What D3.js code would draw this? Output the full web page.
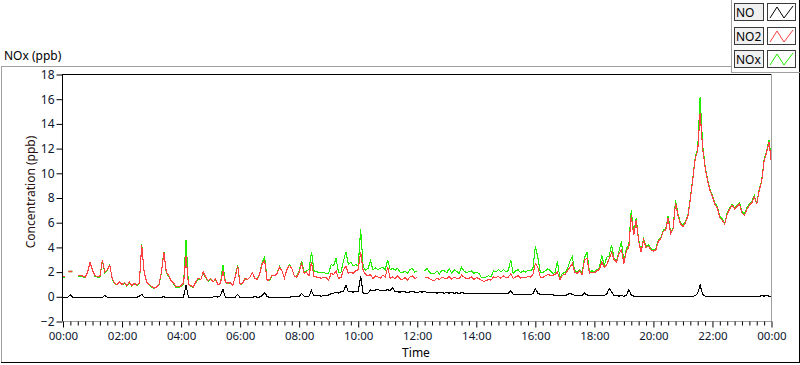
<!DOCTYPE html>
<html>
<head>
<meta charset="utf-8">
<script src="https://cdn.jsdelivr.net/npm/d3@7"></script>
<style>
  html, body { margin: 0; padding: 0; background: #ffffff; }
  svg { display: block; font-family: "Noto Sans", "Open Sans", sans-serif; }
</style>
</head>
<body>
<script>
// ---------------- DATA ----------------
const startTime = Date.UTC(2000, 0, 1, 0, 0);
const endTime = Date.UTC(2000, 0, 2, 0, 0);
const stepMinutes = 5;

const seriesNames = ["NO", "NO2", "NOx"];
const seriesColors = ["#000000", "#ff4040", "#22ee00"];

const yTicks = [-2, 0, 2, 4, 6, 8, 10, 12, 14, 16, 18];
const xTickLabels = ["00:00","02:00","04:00","06:00","08:00","10:00","12:00","14:00","16:00","18:00","20:00","22:00","00:00"];

const no = [
 -0.05,-0.08,-0.02,0.15,-0.05,-0.08,-0.05,-0.03,-0.08,-0.05,
 -0.06,-0.04,-0.07,-0.05,-0.03,-0.06,-0.05,0.1,-0.04,-0.07,
 -0.05,-0.06,-0.03,-0.08,-0.05,-0.04,-0.06,-0.05,-0.02,-0.07,
 -0.05,0.05,0.2,-0.03,-0.06,-0.05,-0.07,-0.04,-0.06,-0.05,
 -0.03,0.0,-0.05,-0.06,-0.04,-0.07,-0.05,-0.06,-0.04,-0.02,
 0.95,-0.03,-0.06,-0.05,-0.07,-0.04,-0.05,-0.06,-0.03,-0.05,
 -0.04,-0.02,0.05,-0.03,0.1,0.6,-0.02,-0.05,-0.04,-0.06,
 -0.03,0.2,-0.05,-0.04,-0.06,-0.05,-0.03,-0.04,0.02,-0.03,
 -0.02,0.1,0.35,0.0,-0.04,-0.05,-0.04,-0.05,-0.06,-0.05,
 -0.04,-0.05,-0.04,0.0,0.02,0.01,0.03,0.27,0.05,0.05,
 0.05,0.5,0.08,0.1,0.08,0.05,0.12,0.1,0.15,0.25,
 0.3,0.35,0.3,0.4,0.45,0.95,0.4,0.42,0.38,0.45,
 0.4,1.65,0.25,0.25,0.3,0.55,0.5,0.55,0.6,0.5,
 0.55,0.52,0.58,0.5,0.75,0.42,0.4,0.38,0.42,0.4,
 0.35,0.4,0.42,0.38,0.35,0.4,0.38,0.42,0.36,0.35,
 0.38,0.32,0.3,0.35,0.32,0.3,0.33,0.3,0.34,0.3,
 0.32,0.28,0.33,0.3,0.27,0.28,0.25,0.27,0.26,0.28,
 0.25,0.27,0.24,0.26,0.25,0.27,0.24,0.26,0.25,0.27,
 0.24,0.26,0.5,0.22,0.2,0.22,0.2,0.18,0.2,0.22,
 0.2,0.24,0.67,0.3,0.2,0.18,0.2,0.15,0.18,
 0.15,0.13,0.12,0.14,0.12,0.13,0.15,0.3,0.18,0.13,
 0.12,0.14,0.13,0.3,0.15,0.12,0.1,0.08,0.1,0.08,
 0.1,0.12,0.2,0.67,0.4,0.1,0.08,0.06,0.1,0.05,
 0.1,0.6,0.15,0.05,0.04,0.03,0.02,0.0,0.02,0.0,
 0.03,0.01,-0.01,0.02,0.04,0.0,0.02,0.05,0.01,0.0,
 0.03,0.0,0.02,0.01,0.03,0.02,0.0,0.03,0.1,0.3,
 0.95,0.2,0.05,0.02,0.0,0.03,0.01,-0.01,0.02,0.0,
 0.02,0.01,-0.01,0.02,0.0,0.01,0.03,0.0,0.02,0.01,
 0.0,0.02,0.0,0.03,0.01,0.1,0.05,0.12,0.04,0.02
];

const no2 = [
 1.62,1.62,null,2.05,null,null,1.7,1.72,1.68,1.6,
 2.0,2.8,2.15,1.7,1.65,1.65,3.0,2.0,2.2,2.55,
 1.5,1.1,1.0,1.2,1.0,1.15,0.9,1.2,0.9,1.1,
 0.95,1.1,4.2,2.0,1.2,1.0,0.85,0.7,0.8,1.0,
 2.0,3.6,2.0,1.7,1.3,1.1,0.8,0.8,0.9,1.1,
 3.3,1.0,0.9,0.8,1.2,1.5,1.4,2.0,1.6,1.3,
 1.5,1.2,1.45,0.95,1.1,2.1,1.2,1.1,1.15,0.9,
 1.6,2.5,1.0,1.1,1.5,1.4,1.6,1.95,1.5,1.4,
 1.9,2.7,2.9,1.3,1.4,1.75,1.7,1.9,2.4,2.1,
 1.5,2.2,2.55,2.3,1.7,1.6,2.0,2.7,1.9,2.0,
 1.7,2.8,1.65,1.6,1.55,1.5,1.6,1.55,1.35,1.9,
 1.8,2.1,1.5,1.55,2.2,2.5,1.9,2.0,1.9,2.1,
 2.2,3.65,2.1,1.8,1.7,1.8,1.5,1.7,1.6,1.5,
 1.75,1.6,2.4,1.5,1.6,1.45,1.7,1.45,1.4,1.55,
 1.35,1.6,1.7,1.5,1.55,null,null,1.55,1.6,1.45,
 1.35,1.3,1.5,1.4,1.6,1.5,1.45,1.65,1.4,1.6,
 1.5,1.45,1.75,1.6,1.45,1.5,1.6,1.4,1.55,1.5,
 1.35,1.25,1.3,1.4,1.35,1.6,1.55,1.65,1.5,1.7,
 1.55,1.6,1.85,1.5,1.6,1.7,1.5,1.6,1.55,1.65,
 1.6,1.8,2.7,2.4,1.6,1.55,1.7,1.8,1.75,
 1.75,1.8,2.0,1.4,1.75,1.8,2.1,2.4,2.7,2.0,
 1.9,2.1,1.8,3.0,3.1,1.9,2.0,1.95,2.1,2.2,
 2.8,2.4,2.6,3.1,3.6,3.0,2.8,3.5,3.8,2.7,
 3.7,4.0,6.6,5.0,6.2,4.5,3.6,4.6,4.0,4.1,
 3.8,3.7,3.8,4.5,4.7,5.3,5.4,6.4,5.1,5.5,
 7.6,6.6,5.9,5.7,6.0,6.5,7.9,9.5,11.2,11.8,
 14.9,12.0,10.5,9.4,8.6,8.1,7.5,7.2,6.4,6.2,
 5.9,6.7,7.1,7.4,7.1,7.3,7.5,6.8,6.6,7.1,
 7.4,7.6,8.1,7.5,8.6,9.3,11.0,11.7,12.5,10.8
];

const nox = [
 1.6,1.6,null,2.05,null,null,1.65,1.65,1.62,1.55,
 1.95,2.75,2.1,1.65,1.6,1.6,2.95,1.95,2.15,2.6,
 1.45,1.05,0.95,1.15,0.95,1.1,0.85,1.15,0.85,1.05,
 0.9,1.05,4.25,1.95,1.15,0.95,0.8,0.68,0.75,0.95,
 1.95,3.65,1.95,1.65,1.25,1.05,0.75,0.75,0.85,1.05,
 4.6,1.0,0.85,0.75,1.15,1.45,1.4,1.95,1.55,1.25,
 1.45,1.2,1.4,0.95,1.1,2.6,1.2,1.05,1.1,0.9,
 1.65,2.6,1.0,1.05,1.45,1.4,1.6,1.95,1.5,1.4,
 1.95,2.8,3.2,1.3,1.35,1.7,1.7,1.9,2.45,2.1,
 1.5,2.2,2.6,2.3,1.7,1.65,2.1,2.9,2.0,2.1,
 2.2,3.65,2.1,2.05,1.95,1.95,1.95,1.9,1.9,2.6,
 2.5,3.1,1.95,2.0,2.9,3.65,2.6,2.8,2.5,2.6,
 2.5,5.45,2.45,2.15,2.3,2.9,2.2,2.35,2.2,2.3,
 2.4,2.2,3.0,2.2,2.3,2.15,2.3,2.0,1.95,2.1,
 1.9,2.2,2.3,2.0,2.05,null,null,2.1,2.3,2.0,
 1.85,1.9,2.1,1.85,2.15,2.1,1.95,2.3,1.9,2.2,
 2.05,1.9,2.4,2.1,1.95,2.05,2.1,1.9,2.0,1.9,
 1.6,1.55,1.6,1.7,1.6,2.1,2.0,2.2,2.0,2.2,
 2.05,2.1,3.0,1.9,2.1,2.2,1.95,2.1,2.0,2.15,
 2.1,2.3,4.1,3.2,2.0,1.95,2.1,2.25,2.15,
 1.9,1.95,2.85,1.5,1.9,1.95,2.25,2.85,3.25,2.1,
 2.05,2.2,1.9,3.2,3.6,2.0,2.1,2.05,2.2,2.3,
 3.4,2.5,3.2,3.3,4.2,3.1,2.9,3.7,4.5,2.8,
 3.9,4.2,7.0,5.1,6.35,4.6,3.7,4.7,4.1,4.2,
 3.9,3.8,3.9,4.6,4.8,5.4,5.5,6.55,5.2,5.6,
 7.8,6.7,6.0,5.8,6.1,6.6,8.0,9.6,11.3,12.0,
 16.2,12.3,10.6,9.5,8.7,8.2,7.6,7.3,6.5,6.3,
 5.95,6.8,7.2,7.5,7.2,7.4,7.6,6.9,6.7,7.2,
 7.5,7.7,8.2,7.6,8.7,9.4,11.1,11.8,12.7,10.9
];

// ---------------- CHART ----------------
const W = 800, H = 365;
const plot = { left: 62.5, right: 771.5, top: 74.5, bottom: 321.5 };

const svg = d3.select("body").append("svg").attr("width", W).attr("height", H);
svg.append("rect").attr("width", W).attr("height", H).attr("fill", "#ffffff");

const x = d3.scaleUtc().domain([startTime, endTime]).range([63, 771.5]);
const y = d3.scaleLinear().domain([-2, 18]).range([plot.bottom, plot.top]);

// Outer panel
const gray = "#a0a0a0";
function hline(x1, x2, yy, c) { svg.append("line").attr("x1", x1).attr("x2", x2).attr("y1", yy).attr("y2", yy).attr("stroke", c).attr("stroke-width", 1); }
function vline(xx, y1, y2, c) { svg.append("line").attr("x1", xx).attr("x2", xx).attr("y1", y1).attr("y2", y2).attr("stroke", c).attr("stroke-width", 1); }
hline(1, 731, 66.5, gray);
vline(1.5, 66, 363, gray);
hline(1, 800, 362.5, "#000");
vline(799.5, 0, 363, "#000");
vline(731.5, 0, 72, gray);
hline(731, 800, 72.5, gray);

// Panel title
svg.append("text").attr("x", 4).attr("y", 60).attr("font-size", 12).attr("fill", "#000").text("NOx (ppb)");

// Plot frame
hline(62, 772, plot.top, "#000");
vline(plot.left, 74, 322, "#000");
vline(plot.right, 74, 322, gray);
hline(62, 772, plot.bottom, gray);

// Y axis
const yAxis = svg.append("g").attr("transform", `translate(${plot.left},0)`)
  .call(d3.axisLeft(y).tickValues(yTicks).tickSize(6).tickPadding(2).tickFormat(d3.format("d")));
yAxis.select(".domain").remove();
yAxis.selectAll("line").attr("stroke", "#000");
yAxis.selectAll("text").attr("font-size", 12).attr("fill", "#0d1730").attr("font-family", "Noto Sans, sans-serif");

// X axis major
const majorTicks = d3.range(0, xTickLabels.length).map(i => new Date(startTime + i * 2 * 3600e3));
const xAxis = svg.append("g").attr("transform", `translate(0,${plot.bottom})`)
  .call(d3.axisBottom(x).tickValues(majorTicks).tickSize(6).tickFormat((d, i) => xTickLabels[i]));
xAxis.select(".domain").remove();
xAxis.selectAll("line").attr("stroke", "#000");
xAxis.selectAll("text").attr("y", 18).attr("dy", 0).attr("font-size", 11.5).attr("fill", "#0d1730").attr("font-family", "Noto Sans, sans-serif");
// X axis minor (every 15 min)
const minorTicks = d3.utcMinute.every(15).range(new Date(startTime), new Date(endTime + 1)).filter(d => d.getUTCMinutes() !== 0 || d.getUTCHours() % 2 !== 0);
const xMinor = svg.append("g").attr("transform", `translate(0,${plot.bottom})`)
  .call(d3.axisBottom(x).tickValues(minorTicks).tickSize(4).tickFormat(""));
xMinor.select(".domain").remove();
xMinor.selectAll("line").attr("stroke", "#000");

// Axis titles
svg.append("text").attr("transform", "translate(35,192) rotate(-90)").attr("text-anchor", "middle")
  .attr("font-size", 12).attr("fill", "#2a1010").text("Concentration (ppb)");
svg.append("text").attr("x", 416).attr("y", 357).attr("text-anchor", "middle")
  .attr("font-size", 12).attr("fill", "#000").text("Time");

// Data lines
svg.append("clipPath").attr("id", "clip").append("rect")
  .attr("x", plot.left + 0.5).attr("y", plot.top + 0.5).attr("width", plot.right - plot.left - 1).attr("height", plot.bottom - plot.top - 1);
const gData = svg.append("g").attr("clip-path", "url(#clip)");

function toPoints(arr) { return arr.map((v, i) => ({ t: new Date(startTime + i * stepMinutes * 60e3), v })); }
const line = d3.line().defined(d => d.v !== null).x(d => x(d.t)).y(d => y(d.v));

function drawSeries(arr, color) {
  const pts = toPoints(arr);
  gData.append("path").attr("d", line(pts)).attr("fill", "none").attr("stroke", color)
    .attr("stroke-width", 1.1).attr("stroke-linejoin", "miter").attr("shape-rendering", "crispEdges");
  // isolated points
  pts.forEach((p, i) => {
    if (p.v === null) return;
    const prev = i > 0 ? pts[i - 1].v : null, next = i < pts.length - 1 ? pts[i + 1].v : null;
    if (prev === null && next === null) {
      gData.append("line").attr("x1", x(p.t) - 2).attr("x2", x(p.t) + 2)
        .attr("y1", y(p.v)).attr("y2", y(p.v)).attr("stroke", color).attr("stroke-width", 1.5);
    }
  });
}
drawSeries(nox, seriesColors[2]);
drawSeries(no2, seriesColors[1]);
drawSeries(no, seriesColors[0]);

// Legend
const legendY = [3, 27, 50];
seriesNames.forEach((name, i) => {
  const g = svg.append("g").attr("transform", `translate(0,${legendY[i]})`);
  g.append("rect").attr("x", 734.5).attr("y", 0.5).attr("width", 29).attr("height", 17)
    .attr("fill", "#f0f0f0").attr("stroke", "#3a3a3a");
  g.append("text").attr("x", 736).attr("y", 14).attr("font-size", 12).attr("fill", "#000").text(name);
  g.append("rect").attr("x", 767.5).attr("y", 0.5).attr("width", 28).attr("height", 17)
    .attr("fill", "#ffffff").attr("stroke", "#3a3a3a");
  g.append("polyline").attr("points", "770,15 777,4 784,15 793,3")
    .attr("fill", "none").attr("stroke", seriesColors[i]).attr("stroke-width", 1);
});
</script>
</body>
</html>
